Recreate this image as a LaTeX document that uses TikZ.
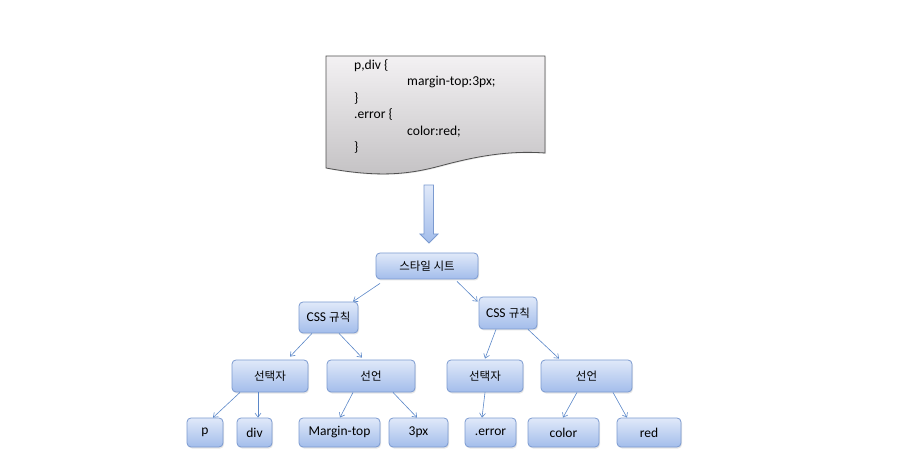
\documentclass[tikz,border=0pt]{standalone}
\usepackage{fontspec}
\setmainfont{Carlito}
\newfontfamily\krfont{Noto Sans CJK KR}
\newcommand{\kr}{\krfont\fontsize{11.5}{14}\selectfont}
\usetikzlibrary{arrows.meta,shadows,calc}
\definecolor{nodeline}{HTML}{7B9AD0}
\definecolor{nodetop}{HTML}{E0E9F9}
\definecolor{nodebot}{HTML}{A3BDEB}
\definecolor{connc}{HTML}{5B87C8}
\definecolor{doctop}{HTML}{F3F1F3}
\definecolor{docbot}{HTML}{C3C1C3}
\definecolor{docline}{HTML}{505050}
\begin{document}
\begin{tikzpicture}[x=1pt,y=-1pt,
  box/.style={draw=nodeline, line width=0.8pt, rounded corners=4pt,
    top color=nodetop, bottom color=nodebot, inner sep=0pt,
    font=\fontsize{13.5}{15}\selectfont,
    drop shadow={shadow xshift=1pt, shadow yshift=-1.5pt, opacity=0.2}},
  conn/.style={draw=connc, line width=0.6pt, -{Straight Barb[length=4pt,width=6pt]}},
  code/.style={anchor=mid west, inner sep=0pt, font=\fontsize{13.6}{15}\selectfont}]
\useasboundingbox (0,0) rectangle (914,465);
% document shape
\path[draw=docline, line width=0.8pt, top color=doctop, bottom color=docbot,
  drop shadow={shadow xshift=1pt, shadow yshift=-1pt, opacity=0.18}]
  (326,56) -- (545,56) -- (545,153)
  .. controls (505,150) and (470,158) .. (440,166)
  .. controls (410,174) and (380,178) .. (326,168) -- cycle;
\node[code] (l1) at (354,67) {p,div \{};
\node[code] (l2) at (407,83) {margin-top:3px;};
\node[code] (l3) at (354,100) {\}};
\node[code] (l4) at (354,116) {.error \{};
\node[code] (l5) at (407,133) {color:red;};
\node[code] (l6) at (354,149) {\}};
% block arrow
\path[draw=nodeline, line width=0.8pt, top color=nodetop, bottom color=nodebot]
  (424,185) -- (433.5,185) -- (433.5,234) -- (438,234) -- (429,243) -- (420,234) -- (424,234) -- cycle;
% nodes
\node[box, minimum width=102pt, minimum height=26pt] (sheet) at (427,266) {\kr 스타일 시트};
\node[box, minimum width=59pt, minimum height=31pt] (cssL) at (328.5,317.5) {CSS {\kr 규칙}};
\node[box, minimum width=58pt, minimum height=32pt] (cssR) at (508,313) {CSS {\kr 규칙}};
\node[box, minimum width=76pt, minimum height=32pt] (selL) at (270,376) {\kr 선택자};
\node[box, minimum width=88pt, minimum height=32pt] (declL) at (371,376) {\kr 선언};
\node[box, minimum width=76pt, minimum height=32pt] (selR) at (485,376) {\kr 선택자};
\node[box, minimum width=91pt, minimum height=32pt] (declR) at (586.5,376) {\kr 선언};
\node[box, minimum width=36pt, minimum height=29pt] (p) at (205,432.5) {p};
\node[box, minimum width=35pt, minimum height=29pt] (div) at (254.5,432.5) {div};
\node[box, minimum width=81pt, minimum height=29pt] (mt) at (339.5,432.5) {Margin-top};
\node[box, minimum width=59pt, minimum height=29pt] (px) at (418.5,432.5) {3px};
\node[box, minimum width=51pt, minimum height=29pt] (err) at (490.5,432.5) {.error};
\node[box, minimum width=71pt, minimum height=29pt] (color) at (563.5,432.5) {color};
\node[box, minimum width=64pt, minimum height=29pt] (red) at (649,432.5) {red};
% connectors
\draw[conn] ([xshift=-47pt,yshift=-4pt]sheet.south) -- ([xshift=24.5pt]cssL.north);
\draw[conn] ([xshift=30pt,yshift=-2pt]sheet.south) -- ([xshift=-1pt,yshift=-5pt]cssR.north west);
\draw[conn] ([xshift=-16.5pt]cssL.south) -- ([xshift=20pt,yshift=3pt]selL.north);
\draw[conn] ([xshift=10.5pt]cssL.south) -- ([xshift=-9pt,yshift=2pt]declL.north);
\draw[conn] ([xshift=-12pt]cssR.south) -- ([yshift=1pt]selR.north);
\draw[conn] ([xshift=20pt]cssR.south) -- ([xshift=-27.5pt,yshift=1pt]declR.north);
\draw[conn] ([xshift=-30pt]selL.south) -- ([xshift=8pt]p.north);
\draw[conn] ([xshift=-12pt]selL.south) -- ([xshift=3.5pt]div.north);
\draw[conn] ([xshift=-18pt]declL.south) -- ([xshift=0.5pt]mt.north);
\draw[conn] ([xshift=22pt]declL.south) -- ([xshift=-1.5pt]px.north);
\draw[conn] (selR.south) -- ([xshift=-8.5pt]err.north);
\draw[conn] ([xshift=-9.5pt]declR.south) -- ([xshift=-0.5pt]color.north);
\draw[conn] ([xshift=26.5pt]declR.south) -- ([xshift=-22pt]red.north);
\end{tikzpicture}
\end{document}
